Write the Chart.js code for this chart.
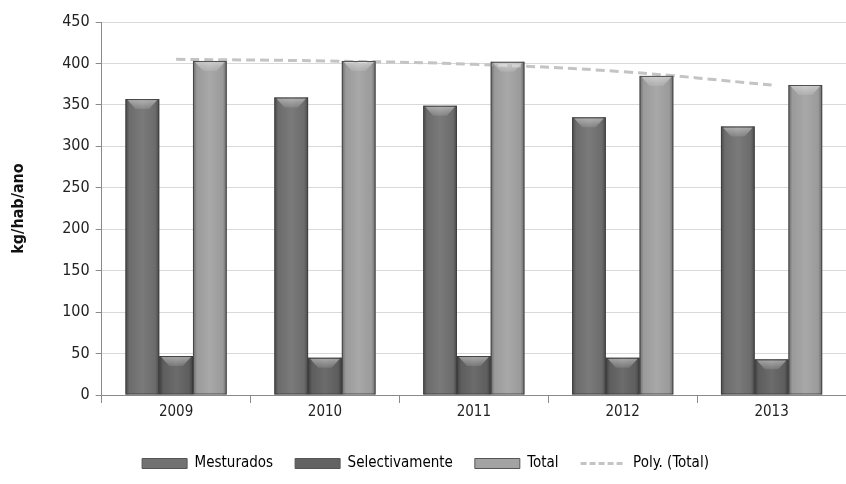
<!DOCTYPE html>
<html>
<head>
<meta charset="utf-8">
<script src="https://cdn.jsdelivr.net/npm/chart.js@4"></script>
<style>
  html, body { margin: 0; padding: 0; background: #fff; }
  #wrap { width: 846px; height: 484px; }
</style>
</head>
<body>
<div id="wrap"><canvas id="c"></canvas></div>
<script>
const anos = ['2009', '2010', '2011', '2012', '2013'];
const mesturados = [357, 359, 349, 335, 324];
const selectivamente = [47, 45, 47, 45, 43];
const total = [403, 403, 402, 385, 374];
const polyTotal = [405, 403, 399, 390, 374];
const yTicks = [0, 50, 100, 150, 200, 250, 300, 350, 400, 450];

const FONT = "'DejaVu Sans Condensed', 'Liberation Sans', sans-serif";

// bevel/shading over the bars, like the excel 3D-ish look
const bevel = {
    id: 'bevel',
    afterDatasetsDraw(chart) {
        const ctx = chart.ctx;
        chart.data.datasets.forEach((ds, i) => {
            if (ds.type === 'line') return;
            const meta = chart.getDatasetMeta(i);
            meta.data.forEach(bar => {
                const left = bar.x - bar.width / 2, right = bar.x + bar.width / 2;
                const top = bar.y, bottom = bar.base;
                const g = ctx.createLinearGradient(left, 0, right, 0);
                g.addColorStop(0, 'rgba(0,0,0,0.35)');
                g.addColorStop(0.12, 'rgba(0,0,0,0.05)');
                g.addColorStop(0.5, 'rgba(255,255,255,0.06)');
                g.addColorStop(0.88, 'rgba(0,0,0,0.05)');
                g.addColorStop(1, 'rgba(0,0,0,0.35)');
                ctx.save();
                ctx.fillStyle = g;
                ctx.fillRect(left, top, right - left, bottom - top);
                // top bevel
                const h = Math.min(10, (bottom - top) / 2);
                const tg = ctx.createLinearGradient(0, top, 0, top + h);
                tg.addColorStop(0, 'rgba(255,255,255,0.45)');
                tg.addColorStop(1, 'rgba(255,255,255,0.1)');
                ctx.fillStyle = tg;
                ctx.beginPath();
                ctx.moveTo(left + 2, top + 1);
                ctx.lineTo(right - 2, top + 1);
                ctx.lineTo(bar.x + bar.width * 0.2, top + h);
                ctx.lineTo(bar.x - bar.width * 0.2, top + h);
                ctx.closePath();
                ctx.fill();
                ctx.strokeStyle = 'rgba(60,60,60,0.8)';
                ctx.lineWidth = 1;
                ctx.strokeRect(left + 0.5, top + 0.5, right - left - 1, bottom - top - 1);
                ctx.restore();
            });
        });
    }
};

new Chart(document.getElementById('c'), {
    data: {
        labels: anos,
        datasets: [
            {
                type: 'bar', label: 'Mesturados', data: mesturados,
                backgroundColor: '#727272', borderWidth: 0,
                barPercentage: 1, categoryPercentage: 0.68, order: 2
            },
            {
                type: 'bar', label: 'Selectivamente', data: selectivamente,
                backgroundColor: '#636363', borderWidth: 0,
                barPercentage: 1, categoryPercentage: 0.68, order: 2
            },
            {
                type: 'bar', label: 'Total', data: total,
                backgroundColor: '#a3a3a3', borderWidth: 0,
                barPercentage: 1, categoryPercentage: 0.68, order: 2
            },
            {
                type: 'line', label: 'Poly. (Total)', data: polyTotal,
                borderColor: '#c4c4c4', borderWidth: 3, borderDash: [9, 5],
                pointRadius: 0, tension: 0.4, fill: false, order: 1
            }
        ]
    },
    options: {
        responsive: true,
        maintainAspectRatio: false,
        animation: false,
        layout: { padding: { left: 5, right: 0, top: 22, bottom: 3 } },
        plugins: {
            tooltip: { enabled: false },
            legend: {
                position: 'bottom',
                labels: {
                    usePointStyle: true,
                    pointStyleWidth: 45,
                    boxHeight: 10,
                    padding: 22,
                    color: '#222',
                    font: { family: FONT, size: 15 },
                    generateLabels(chart) {
                        return chart.data.datasets.map((ds, i) => ({
                            text: ds.label,
                            fillStyle: ds.type === 'line' ? 'transparent' : ds.backgroundColor,
                            strokeStyle: ds.type === 'line' ? ds.borderColor : '#555',
                            lineWidth: ds.type === 'line' ? 3 : 1,
                            lineDash: ds.type === 'line' ? [6, 3] : [],
                            pointStyle: ds.type === 'line' ? 'line' : 'rect',
                            datasetIndex: i,
                            hidden: false
                        }));
                    }
                }
            }
        },
        scales: {
            x: {
                afterFit(axis) { axis.height = 39; },
                grid: { display: true, drawOnChartArea: false, color: '#8a8a8a', tickLength: 8, offset: true },
                border: { color: '#8a8a8a' },
                ticks: { color: '#222', font: { family: FONT, size: 15 }, padding: 0 }
            },
            y: {
                min: 0, max: 450,
                afterBuildTicks(axis) { axis.ticks = yTicks.map(v => ({ value: v })); },
                grid: { color: '#d9d9d9', tickLength: 6, tickColor: '#8a8a8a' },
                border: { color: '#8a8a8a' },
                ticks: { color: '#222', font: { family: FONT, size: 16 }, padding: 6 },
                title: {
                    display: true, text: 'kg/hab/ano', color: '#111',
                    font: { family: FONT, size: 16, weight: 'bold' }, padding: { bottom: 28 }
                }
            }
        }
    },
    plugins: [bevel]
});
</script>
</body>
</html>
